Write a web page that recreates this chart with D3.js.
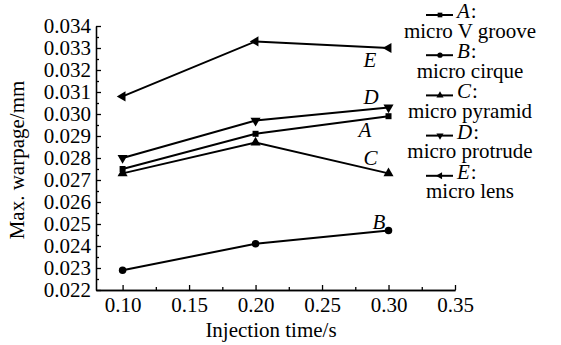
<!DOCTYPE html>
<html>
<head>
<meta charset="utf-8">
<script src="https://cdn.jsdelivr.net/npm/d3@7"></script>
<style>
  html, body { margin: 0; padding: 0; background: #fff; }
  .axis path, .axis line { stroke: #000; stroke-width: 1.3; }
</style>
</head>
<body>
<svg id="chart" width="561" height="345"></svg>
<script>
// data
const injectionTime = [0.10, 0.20, 0.30];
const seriesKeys = ["A", "B", "C", "D", "E"];
const seriesNames = ["micro V groove", "micro cirque", "micro pyramid", "micro protrude", "micro lens"];
const warpA = [0.0275, 0.0291, 0.0299];
const warpB = [0.0229, 0.0241, 0.0247];
const warpC = [0.0273, 0.0287, 0.0273];
const warpD = [0.0280, 0.0297, 0.0303];
const warpE = [0.0308, 0.0333, 0.0330];
const xTickLabels = ["0.10", "0.15", "0.20", "0.25", "0.30", "0.35"];
const yTickLabels = ["0.022", "0.023", "0.024", "0.025", "0.026", "0.027", "0.028",
                     "0.029", "0.030", "0.031", "0.032", "0.033", "0.034"];

const series = [warpA, warpB, warpC, warpD, warpE];
const symbols = [d3.symbolSquare, d3.symbolCircle, "up", "down", "left"];

const svg = d3.select("#chart");
const margin = { top: 26, right: 106, bottom: 55, left: 96 };
const width = 561, height = 345;
const serif = "'Liberation Serif', 'Times New Roman', serif";
const fontSize = "21px";

const x = d3.scaleLinear().domain([0.08, 0.35]).range([margin.left, width - margin.right]);
const y = d3.scaleLinear().domain([0.022, 0.034]).range([height - margin.bottom, margin.top]);

// small helper so every text gets the serif face
function txt(sel) {
    return sel.append("text")
        .style("font-family", serif)
        .style("font-size", fontSize)
        .attr("fill", "#000");
}

// minor ticks
const xMinor = d3.range(0.125, 0.35, 0.05);
const yMinor = d3.range(0.0225, 0.034, 0.001);

svg.append("g")
    .attr("class", "axis")
    .attr("transform", `translate(0,${y.range()[0]})`)
    .call(d3.axisBottom(x).tickValues(xMinor).tickSizeInner(-3).tickSizeOuter(0).tickFormat(""));
svg.append("g")
    .attr("class", "axis")
    .attr("transform", `translate(${x.range()[0]},0)`)
    .call(d3.axisLeft(y).tickValues(yMinor).tickSizeInner(-3).tickSizeOuter(0).tickFormat(""));

// x axis
const gx = svg.append("g")
    .attr("class", "axis")
    .attr("transform", `translate(0,${y.range()[0]})`)
    .call(d3.axisBottom(x)
        .tickValues(xTickLabels.map(Number))
        .tickFormat((d, i) => xTickLabels[i])
        .tickSizeInner(-5).tickSizeOuter(0).tickPadding(7));
gx.selectAll("text")
    .attr("dy", "0.71em")
    .style("font-family", serif)
    .style("font-size", fontSize);

// y axis
const gy = svg.append("g")
    .attr("class", "axis")
    .attr("transform", `translate(${x.range()[0]},0)`)
    .call(d3.axisLeft(y)
        .tickValues(yTickLabels.map(Number))
        .tickFormat((d, i) => yTickLabels[i])
        .tickSizeInner(-5).tickSizeOuter(0).tickPadding(5));
gy.selectAll("text")
    .style("font-family", serif)
    .style("font-size", fontSize);

// axis titles
txt(svg)
    .attr("x", 271).attr("y", 337)
    .attr("text-anchor", "middle")
    .text("Injection time/s");
txt(svg)
    .attr("transform", "translate(24,160) rotate(-90)")
    .attr("text-anchor", "middle")
    .text("Max. warpage/mm");

function markerPath(type, size) {
    if (type === "up" || type === "down" || type === "left") {
        return d3.symbol(d3.symbolTriangle, size)();
    }
    return d3.symbol(type, size)();
}
function markerRotate(type) {
    if (type === "down") return 180;
    if (type === "left") return -90;
    return 0;
}

const line = d3.line().x((d, i) => x(injectionTime[i])).y(d => y(d));

const plot = svg.append("g");
series.forEach((vals, si) => {
    plot.append("path")
        .datum(vals)
        .attr("d", line)
        .attr("fill", "none")
        .attr("stroke", "#000")
        .attr("stroke-width", 2);
    plot.selectAll(null)
        .data(vals)
        .enter()
        .append("path")
        .attr("d", markerPath(symbols[si], si === 0 ? 36 : 44))
        .attr("transform", (d, i) => `translate(${x(injectionTime[i])},${y(d)}) rotate(${markerRotate(symbols[si])})`)
        .attr("fill", "#000");
});

// curve labels near the last point
const labelDx = [-30, -16, -25, -25, -25];
const labelDy = [21, -2, -8, -3, 19];
series.forEach((vals, si) => {
    txt(svg)
        .attr("x", x(injectionTime[2]) + labelDx[si])
        .attr("y", y(vals[2]) + labelDy[si])
        .style("font-style", "italic")
        .text(seriesKeys[si]);
});

// legend
const legend = svg.append("g");
seriesKeys.forEach((k, i) => {
    const base = 18 + i * 40.2;
    const ly = base - 3;
    legend.append("line")
        .attr("x1", 426).attr("x2", 453)
        .attr("y1", ly).attr("y2", ly)
        .attr("stroke", "#000").attr("stroke-width", 2);
    legend.append("path")
        .attr("d", markerPath(symbols[i], 22))
        .attr("transform", `translate(440,${ly}) rotate(${markerRotate(symbols[i])})`)
        .attr("fill", "#000");
    const key = txt(legend)
        .attr("x", 457).attr("y", base)
        .style("font-style", "italic")
        .text(k);
    txt(legend)
        .attr("x", 457 + key.node().getComputedTextLength() + 1).attr("y", base)
        .text(":");
    txt(legend)
        .attr("x", 470).attr("y", base + 19.5)
        .attr("text-anchor", "middle")
        .text(seriesNames[i]);
});
</script>
</body>
</html>
